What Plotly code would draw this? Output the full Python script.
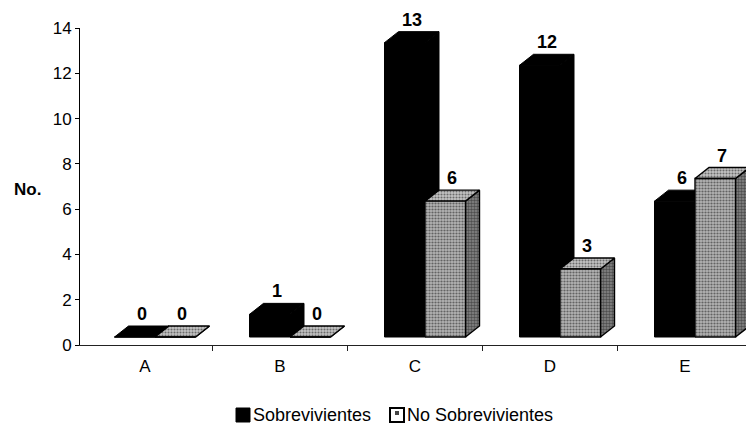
import plotly.graph_objects as go

# ---- data ----
CATEGORIES = ["A", "B", "C", "D", "E"]
SOBREVIVIENTES = [0, 1, 13, 12, 6]
NO_SOBREVIVIENTES = [0, 0, 6, 3, 7]
SERIES_NAMES = ["Sobrevivientes", "No Sobrevivientes"]
Y_TICKS = [0, 2, 4, 6, 8, 10, 12, 14]
Y_TITLE = "No."

# ---- page / plot-area geometry (pixels) ----
W, H = 746, 424
PLOT_L, PLOT_R, PLOT_T, PLOT_B = 80, 746, 28, 345
CAT_PX = 135.0            # width of one category slot
FIRST_CENTER_PX = 145.0   # pixel centre of the first category
Y_MAX = 14

X_LO = (PLOT_L - FIRST_CENTER_PX) / CAT_PX
X_HI = (PLOT_R - FIRST_CENTER_PX) / CAT_PX
UNIT_Y_PX = (PLOT_B - PLOT_T) / Y_MAX

# oblique 3-D look: bars sit a little behind the floor's front edge and have depth
BAR_W = 0.3
FRONT_DX, FRONT_DY = 10 / CAT_PX, 8 / UNIT_Y_PX
DEPTH_DX, DEPTH_DY = 14 / CAT_PX, 11 / UNIT_Y_PX

FONT = "Liberation Sans"


def px_x(p):
    return (p - PLOT_L) / (PLOT_R - PLOT_L)


def px_y(p):
    return (PLOT_B - p) / (PLOT_B - PLOT_T)


def bar_faces(x0, v):
    """Front, top and side polygons of one oblique bar in data coordinates."""
    xl = x0 + FRONT_DX
    xr = xl + BAR_W
    yb = FRONT_DY
    yt = v + FRONT_DY
    front = [(xl, yb), (xr, yb), (xr, yt), (xl, yt)]
    top = [(xl, yt), (xr, yt), (xr + DEPTH_DX, yt + DEPTH_DY), (xl + DEPTH_DX, yt + DEPTH_DY)]
    side = [(xr, yb), (xr + DEPTH_DX, yb + DEPTH_DY), (xr + DEPTH_DX, yt + DEPTH_DY), (xr, yt)]
    return {"front": front, "top": top, "side": side}


def join_polys(polys):
    xs, ys = [], []
    for poly in polys:
        pts = poly + [poly[0]]
        xs += [p[0] for p in pts] + [None]
        ys += [p[1] for p in pts] + [None]
    return xs, ys


fig = go.Figure()

series = [
    (SERIES_NAMES[0], SOBREVIVIENTES, -BAR_W),
    (SERIES_NAMES[1], NO_SOBREVIVIENTES, 0.0),
]

# stippled fill of the second series, per face: (background grey, dot density)
stipple = {
    "front": ("#b4b4b4", 0.42),
    "top": ("#c4c4c4", 0.38),
    "side": ("#8a8a8a", 0.55),
}

annotations = []
for s_idx, (name, values, shift) in enumerate(series):
    faces = [bar_faces(i + shift, v) for i, v in enumerate(values)]
    for face in ("side", "top", "front"):
        xs, ys = join_polys([f[face] for f in faces])
        if s_idx == 0:
            style = dict(fillcolor="black", line=dict(color="black", width=1))
        else:
            bg, solidity = stipple[face]
            style = dict(
                fillcolor=bg,
                fillpattern=dict(shape=".", fgcolor="#111", bgcolor=bg,
                                 size=3, solidity=solidity),
                line=dict(color="black", width=1.4),
            )
        fig.add_trace(go.Scatter(
            x=xs, y=ys, mode="lines", fill="toself", name=name,
            showlegend=False, hoverinfo="skip", **style,
        ))
    # value labels above each bar
    for i, v in enumerate(values):
        annotations.append(dict(
            x=i + shift + FRONT_DX + BAR_W / 2 + DEPTH_DX / 2,
            y=v + FRONT_DY + DEPTH_DY,
            xref="x", yref="y", text=str(v), showarrow=False,
            yanchor="middle", yshift=12,
            font=dict(family=FONT, size=18, color="black", weight="bold"),
        ))

# axis title
annotations.append(dict(
    x=px_x(12), y=px_y(190), xref="paper", yref="paper", text=Y_TITLE,
    showarrow=False, xanchor="left", yanchor="middle",
    font=dict(family=FONT, size=17, color="black", weight="bold"),
))

# legend entries
LEG_Y = 415
annotations.append(dict(
    x=px_x(251), y=px_y(LEG_Y), xref="paper", yref="paper", text=SERIES_NAMES[0],
    showarrow=False, xanchor="left", yanchor="middle",
    font=dict(family=FONT, size=18, color="black"),
))
annotations.append(dict(
    x=px_x(405), y=px_y(LEG_Y), xref="paper", yref="paper", text=SERIES_NAMES[1],
    showarrow=False, xanchor="left", yanchor="middle",
    font=dict(family=FONT, size=18, color="black"),
))

shapes = [
    dict(type="rect", xref="paper", yref="paper",
         x0=px_x(236), x1=px_x(250), y0=px_y(LEG_Y + 7), y1=px_y(LEG_Y - 7),
         fillcolor="black", line=dict(color="black", width=1)),
    dict(type="rect", xref="paper", yref="paper",
         x0=px_x(390), x1=px_x(404), y0=px_y(LEG_Y + 7), y1=px_y(LEG_Y - 7),
         fillcolor="white", line=dict(color="black", width=2)),
    dict(type="rect", xref="paper", yref="paper",
         x0=px_x(395), x1=px_x(399), y0=px_y(LEG_Y), y1=px_y(LEG_Y - 4),
         fillcolor="#444", line=dict(width=0)),
]

fig.update_layout(
    width=W, height=H,
    margin=dict(l=PLOT_L, r=W - PLOT_R, t=PLOT_T, b=H - PLOT_B),
    paper_bgcolor="white", plot_bgcolor="white",
    showlegend=False,
    annotations=annotations,
    shapes=shapes,
    xaxis=dict(
        range=[X_LO, X_HI],
        tickmode="array", tickvals=list(range(len(CATEGORIES))), ticktext=CATEGORIES,
        ticks="", showgrid=False, zeroline=False,
        showline=True, linecolor="#222", linewidth=1,
        tickfont=dict(family=FONT, size=17, color="black"),
        ticklabelstandoff=6,
        minor=dict(tickvals=[i + 0.5 for i in range(len(CATEGORIES) - 1)],
                   ticks="outside", ticklen=5, tickcolor="#222", showgrid=False),
        fixedrange=True,
    ),
    yaxis=dict(
        range=[0, Y_MAX], tickmode="array", tickvals=Y_TICKS,
        ticks="outside", ticklen=4, tickcolor="black",
        showgrid=False, zeroline=False,
        showline=True, linecolor="black", linewidth=1,
        tickfont=dict(family=FONT, size=17, color="black"),
        fixedrange=True,
    ),
)

fig.write_html("out.html")
